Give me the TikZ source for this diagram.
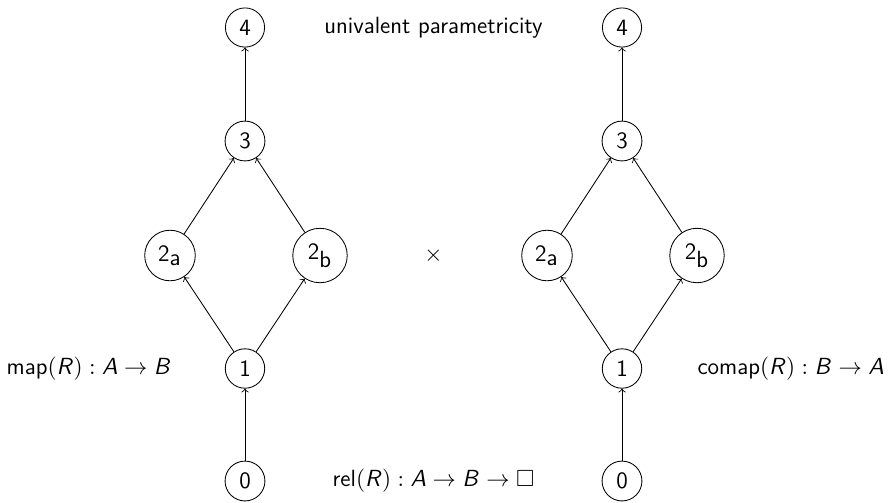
\documentclass[tikz,border=0pt]{standalone}
\usepackage{amssymb}
\DeclareMathAlphabet{\mathsfsl}{OT1}{cmss}{m}{sl}
\tikzset{
  vert/.style={draw, circle},
  conn/.style={->},
  lbl/.style={}
}
\begin{document}
\begin{tikzpicture}[x=0.4695pt,y=-0.4695pt,
  every node/.style={font=\sffamily\fontsize{11}{13.5}\selectfont}]
\useasboundingbox (0,0) rectangle (890,502);
% left diamond
\node[vert] (L0) at (245,481) {0};
\node[vert] (L1) at (245,368.5) {1};
\node[vert] (L2a) at (170,255.5) {2$_{\textsf{a}}$};
\node[vert] (L2b) at (320,255.5) {2$_{\textsf{b}}$};
\node[vert] (L3) at (245,141) {3};
\node[vert] (L4) at (245,27.5) {4};
% right diamond
\node[vert] (R0) at (622,481) {0};
\node[vert] (R1) at (622,368.5) {1};
\node[vert] (R2a) at (547,255.5) {2$_{\textsf{a}}$};
\node[vert] (R2b) at (697,255.5) {2$_{\textsf{b}}$};
\node[vert] (R3) at (622,141) {3};
\node[vert] (R4) at (622,27.5) {4};
% connectors
\foreach \s in {L,R}{
  \draw[conn] (\s0) -- (\s1);
  \draw[conn] (\s1) -- (\s2a);
  \draw[conn] (\s1) -- (\s2b);
  \draw[conn] (\s2a) -- (\s3);
  \draw[conn] (\s2b) -- (\s3);
  \draw[conn] (\s3) -- (\s4);
}
% labels
\node[lbl] (title) at (433.5,27.5) {univalent parametricity};
\node[lbl] (times) at (433.5,256) {$\times$};
\node[lbl] (rel) at (433.5,481) {rel$(\mathsfsl{R}) : \mathsfsl{A} \rightarrow \mathsfsl{B} \rightarrow \square$};
\node[lbl, anchor=east] (map) at (179,368.5) {map$(\mathsfsl{R}) : \mathsfsl{A} \rightarrow \mathsfsl{B}$};
\node[lbl, anchor=west] (comap) at (690,368.5) {comap$(\mathsfsl{R}) : \mathsfsl{B} \rightarrow \mathsfsl{A}$};
\end{tikzpicture}
\end{document}
